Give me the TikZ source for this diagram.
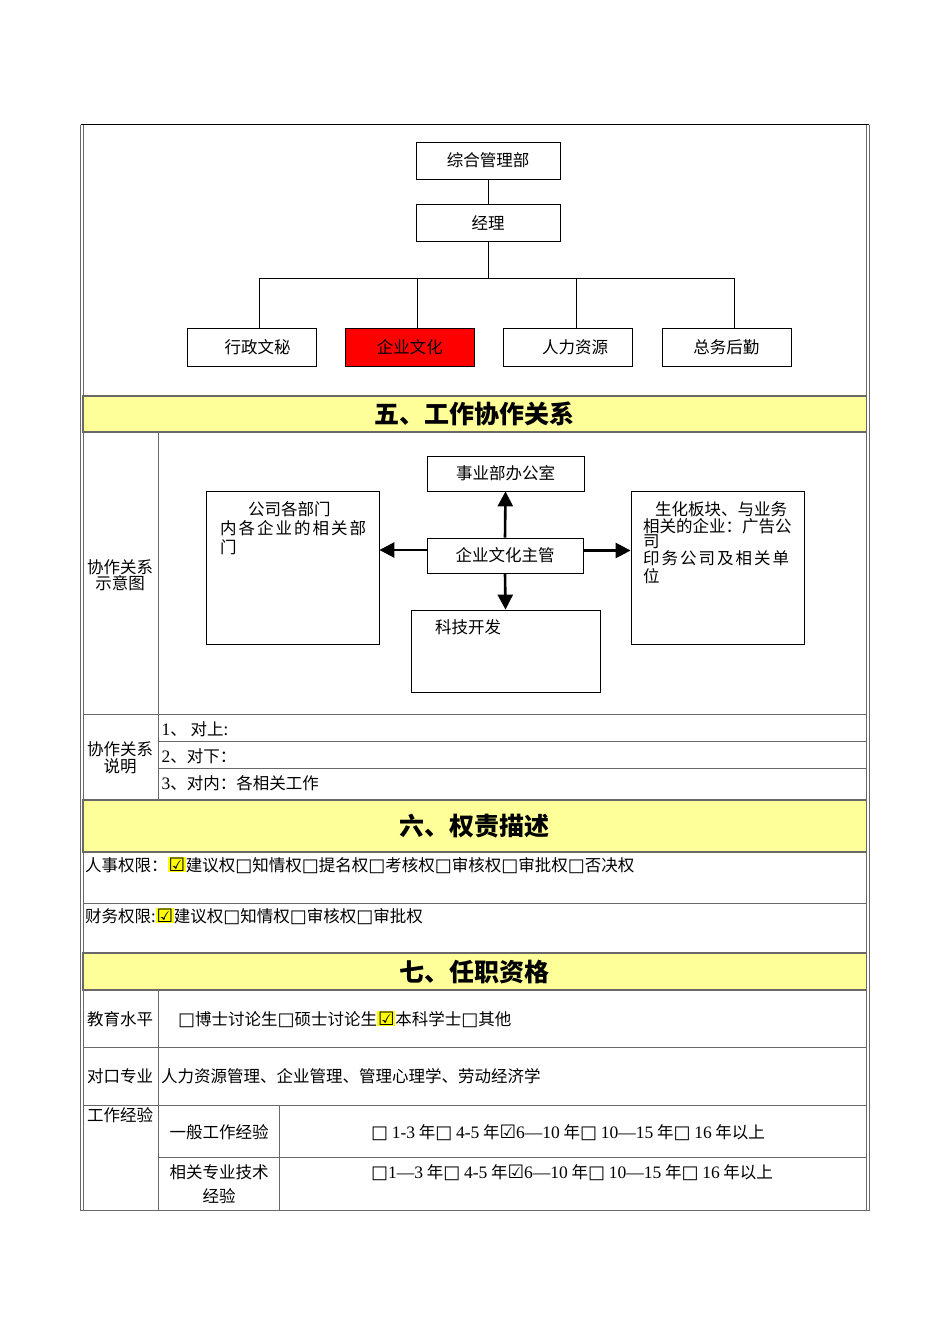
\documentclass[tikz,border=0pt]{standalone}
\usepackage{fontspec}
\usepackage{xcolor}
\usepackage{tikz}
\usetikzlibrary{arrows.meta, positioning}
\setmainfont{Noto Sans CJK SC}
\newfontfamily\symfont{DejaVu Sans}
\newfontfamily\numfont{Liberation Serif}
\definecolor{bandyellow}{RGB}{255,255,153}
\definecolor{hlyellow}{RGB}{255,255,0}
\definecolor{rulegray}{RGB}{105,105,105}
\newcommand\fsbody{\fontsize{16.5}{19}\selectfont}
\newcommand\fstight{\fontsize{16.5}{16.5}\selectfont}
\newcommand\fshead{\fontsize{25}{30}\selectfont\bfseries}
\newcommand\ckno{{\symfont\fontsize{18}{19}\selectfont\char"25A1}}
\newcommand\ckyes{{\symfont\fontsize{18.5}{19}\selectfont\char"2611}}
\newcommand\ckmark{{\setlength\fboxsep{0.8pt}\colorbox{hlyellow}{\ckyes}}}
\newcommand\yr[1]{{\numfont\fontsize{17.5}{19}\selectfont #1}}

\begin{document}
\begin{tikzpicture}[
    x=1pt, y=-1pt, font=\fsbody,
    orgbox/.style={draw, line width=0.8pt, minimum width=144pt, minimum height=37pt},
    subbox/.style={draw, line width=0.8pt, minimum width=129pt, minimum height=38pt},
    relbox/.style={draw, line width=0.8pt},
    conn/.style={line width=0.8pt},
    bigarr/.style={-{Triangle[length=15pt,width=15pt]}, line width=2.6pt},
    band/.style={fill=bandyellow, draw=rulegray, line width=1.4pt, inner sep=0pt,
                 minimum width=784pt, font=\fshead},
    rule/.style={draw=rulegray, line width=0.9pt},
    txt/.style={inner sep=0pt, anchor=west},
    lbl/.style={inner sep=0pt, align=center, font=\fstight},
]
\fill[white] (0,0) rectangle (950,1344);
\useasboundingbox (0,0) rectangle (950,1344);

% Org chart
\node[orgbox] (zhb) at (488,160.5) {综合管理部};
\node[orgbox, below=25pt of zhb] (jl) {经理};
\node[subbox] (xz) at (251.5,347) {\hspace*{12pt}行政文秘};
\node[subbox, fill=red, right=28.5pt of xz] (qy) {企业文化};
\node[subbox, right=28.5pt of qy] (rl) {\hspace*{14pt}人力资源};
\node[subbox, right=28.5pt of rl] (zw) {总务后勤};
\coordinate (bus) at (488,278);
\draw[conn] (zhb) -- (jl);
\draw[conn] (jl) -- (bus);
\foreach \n in {xz,qy,rl,zw}
  \draw[conn] (bus) -| ([xshift=8pt]\n.north);

% Table rules
\draw[rule] (83,714.5) -- (866.5,714.5);
\draw[rule] (158,741) -- (866.5,741);
\draw[rule] (158,768) -- (866.5,768);
\draw[rule] (158,432) -- (158,800);
\draw[rule] (83,903) -- (866.5,903);
\draw[rule] (83,1047) -- (866.5,1047);
\draw[rule] (83,1105.5) -- (866.5,1105.5);
\draw[rule] (158,1157.5) -- (866.5,1157.5);
\draw[rule] (158,990) -- (158,1210);
\draw[rule] (279,1105.5) -- (279,1210);
\draw[rule] (80.5,1210) -- (869,1210);

% Section bands
\node[band, minimum height=36pt] (h5) at (474.75,414) {五、工作协作关系};
\node[band, minimum height=52pt] (h6) at (474.75,826) {六、权责描述};
\node[band, minimum height=37pt] (h7) at (474.75,971.5) {七、任职资格};

% Outer frame
\draw[line width=1pt] (80.5,124.5) -- (869,124.5);
\draw[rulegray, line width=0.8pt] (80.5,124.5) -- (80.5,1211) (83,124.5) -- (83,1211);
\draw[rulegray, line width=0.8pt] (866.5,124.5) -- (866.5,1211) (869,124.5) -- (869,1211);

% Cooperation diagram
\node[lbl] (xzsy) at (120,575) {协作关系\\示意图};
\node[relbox, minimum width=157pt, minimum height=35pt] (sy) at (505.5,473.5) {事业部办公室};
\node[relbox, minimum width=156pt, minimum height=35pt] (zg) at (505,555.5) {企业文化主管};
\node[relbox, minimum width=173pt, minimum height=153pt] (gs) at (292.5,567.5) {};
\node[relbox, minimum width=173pt, minimum height=153pt] (sh) at (717.5,567.5) {};
\node[relbox, minimum width=189pt, minimum height=82pt] (kj) at (505.5,651) {};
\node[txt] (gs1) at (248,509) {公司各部门};
\node[txt, font=\fsbody\addfontfeature{LetterSpace=12}] (gs2) at (220,528) {内各企业的相关部};
\node[txt] (gs3) at (220,547) {门};
\node[txt] (sh1) at (655,509) {生化板块、与业务};
\node[txt] (sh2) at (643,526) {相关的企业：广告公};
\node[txt] (sh3) at (643,542) {司};
\node[txt, font=\fsbody\addfontfeature{LetterSpace=12}] (sh4) at (643,558) {印务公司及相关单};
\node[txt] (sh5) at (643,576.5) {位};
\node[txt] (kj1) at (435,627) {科技开发};
\draw[bigarr] (zg.north) -- (sy.south);
\draw[bigarr] (zg.south) -- (kj.north);
\draw[bigarr] ([yshift=5.5pt]zg.west) -- ([yshift=5.5pt]zg.west -| gs.east);
\draw[bigarr] ([yshift=5pt]zg.east) -- ([yshift=5pt]zg.east -| sh.west);

% Cooperation notes
\node[lbl] (xzsm) at (120,758) {协作关系\\说明};
\node[txt] (r1) at (161.5,729) {\yr{1}、 对上:};
\node[txt] (r2) at (161.5,756) {\yr{2}、对下：};
\node[txt] (r3) at (161.5,783) {\yr{3}、对内：各相关工作};

% Authority
\node[txt] (rs) at (85,865.5) {人事权限：\ckmark 建议权\ckno 知情权\ckno 提名权\ckno 考核权\ckno 审核权\ckno 审批权\ckno 否决权};
\node[txt] (cw) at (85,916.5) {财务权限:\ckmark 建议权\ckno 知情权\ckno 审核权\ckno 审批权};

% Qualifications
\node[lbl] (jy) at (120,1019) {教育水平};
\node[txt] (jyt) at (178,1019) {\ckno 博士讨论生\ckno 硕士讨论生\ckmark 本科学士\ckno 其他};
\node[lbl] (dk) at (120,1076.5) {对口专业};
\node[txt] (dkt) at (161,1076.5) {人力资源管理、企业管理、管理心理学、劳动经济学};
\node[lbl] (gz) at (120,1115) {工作经验};
\node[lbl] (yb) at (219,1132.5) {一般工作经验};
\node[lbl, font=\fontsize{16.5}{24}\selectfont] (xg) at (219,1184.5) {相关专业技术\\经验};
\node[txt] (ybt) at (371,1132.5) {\ckno\ \yr{1-3} 年\ckno\ \yr{4-5} 年\ckyes\yr{6—10} 年\ckno\ \yr{10—15} 年\ckno\ \yr{16} 年以上};
\node[txt] (xgt) at (371,1172.5) {\ckno\yr{1—3} 年\ckno\ \yr{4-5} 年\ckyes\yr{6—10} 年\ckno\ \yr{10—15} 年\ckno\ \yr{16} 年以上};

\end{tikzpicture}
\end{document}
